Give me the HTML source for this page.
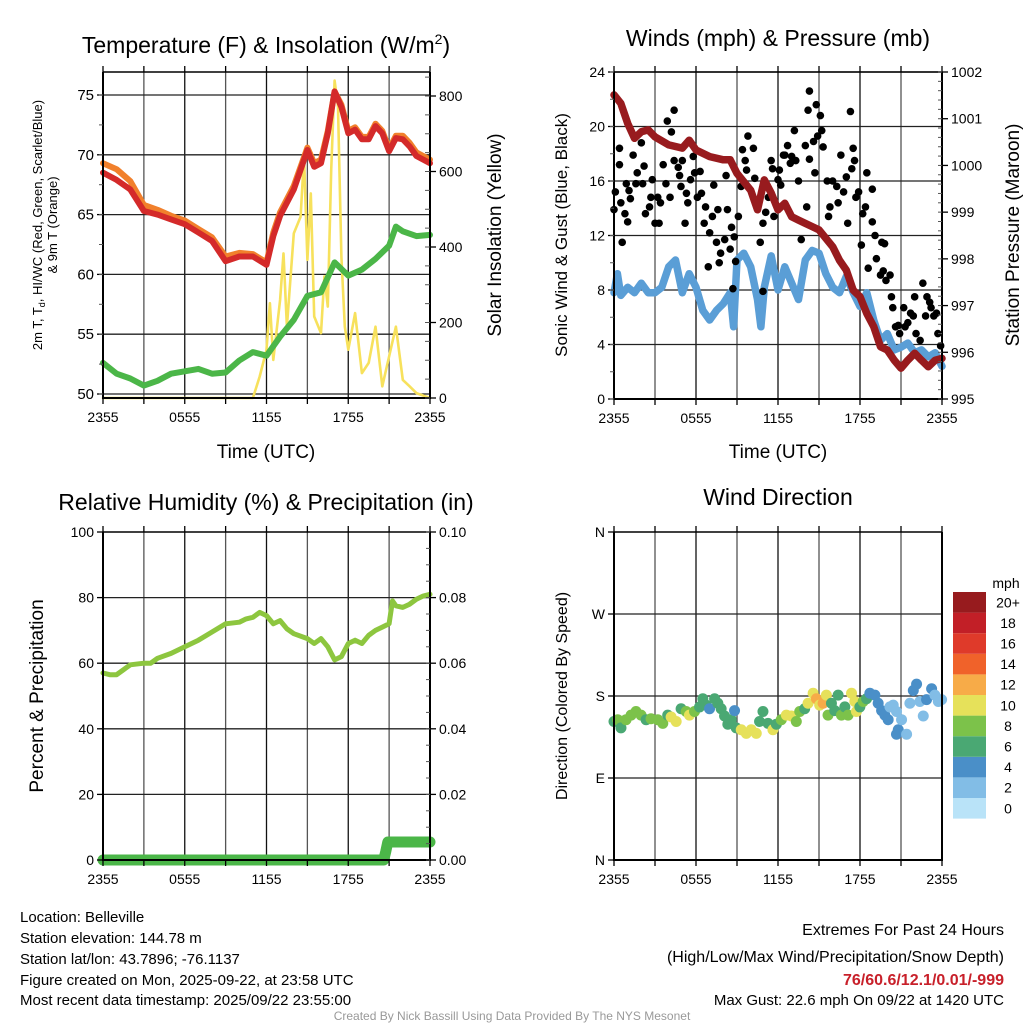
<!DOCTYPE html>
<html><head><meta charset="utf-8"><style>
body{margin:0;background:#fff}
svg{display:block;font-family:"Liberation Sans",sans-serif}
</style></head><body>
<svg id="svg" width="1024" height="1024" viewBox="0 0 1024 1024" xmlns="http://www.w3.org/2000/svg">
<rect width="1024" height="1024" fill="#fff"/>
<g id="grid"></g>
<g id="marks"></g>
<g id="axes"></g>
<g id="texts" fill="#000">
<text x="266" y="53" font-size="23" text-anchor="middle">Temperature (F) &amp; Insolation (W/m<tspan font-size="14" dy="-9">2</tspan><tspan dy="9">)</tspan></text>
<text x="778" y="46" font-size="23" text-anchor="middle">Winds (mph) &amp; Pressure (mb)</text>
<text x="266" y="510" font-size="23" text-anchor="middle">Relative Humidity (%) &amp; Precipitation (in)</text>
<text x="778" y="505" font-size="23" text-anchor="middle">Wind Direction</text>
<text transform="translate(42,225) rotate(-90)" font-size="13" text-anchor="middle">2m T, T<tspan font-size="9" dy="3">d</tspan><tspan dy="-3">, HI/WC (Red, Green, Scarlet/Blue)</tspan></text>
<text transform="translate(57,225) rotate(-90)" font-size="13" text-anchor="middle">&amp; 9m T (Orange)</text>
<text transform="translate(501,235) rotate(-90)" font-size="19" text-anchor="middle">Solar Insolation (Yellow)</text>
<text x="266" y="458" font-size="19" text-anchor="middle">Time (UTC)</text>
<text x="778" y="458" font-size="19" text-anchor="middle">Time (UTC)</text>
<text transform="translate(567,235) rotate(-90)" font-size="17" text-anchor="middle">Sonic Wind &amp; Gust (Blue, Black)</text>
<text transform="translate(1019,235) rotate(-90)" font-size="19" text-anchor="middle">Station Pressure (Maroon)</text>
<text transform="translate(43,696) rotate(-90)" font-size="19" text-anchor="middle">Percent &amp; Precipitation</text>
<text transform="translate(567,696) rotate(-90)" font-size="16" text-anchor="middle">Direction (Colored By Speed)</text>
<text x="1006" y="588" font-size="14" text-anchor="middle">mph</text>
<g font-size="15">
<text x="20" y="922">Location: Belleville</text>
<text x="20" y="943">Station elevation: 144.78 m</text>
<text x="20" y="964">Station lat/lon: 43.7896; -76.1137</text>
<text x="20" y="985">Figure created on Mon, 2025-09-22, at 23:58 UTC</text>
<text x="20" y="1005">Most recent data timestamp: 2025/09/22 23:55:00</text>
</g>
<g text-anchor="end">
<text x="1004" y="935" font-size="16">Extremes For Past 24 Hours</text>
<text x="1004" y="962" font-size="16">(High/Low/Max Wind/Precipitation/Snow Depth)</text>
<text x="1004" y="985" font-size="16" font-weight="bold" fill="#c8202a">76/60.6/12.1/0.01/-999</text>
<text x="1004" y="1005" font-size="15">Max Gust: 22.6 mph On 09/22 at 1420 UTC</text>
</g>
<text x="512" y="1020" font-size="12" fill="#999" text-anchor="middle">Created By Nick Bassill Using Data Provided By The NYS Mesonet</text>
</g>
</svg>
<script>
// ===== data =====
const timeTickLabels = ["2355","0555","1155","1755","2355"];
const tempHours = [0,1,2,3,4,5,6,7,8,9,10,11,12,12.5,13,14,15,15.5,16,16.5,17,17.5,18,18.5,19,19.5,20,20.5,21,21.5,22,22.5,23,24];
const tempRed = [68.5,67.9,67.1,65.3,65,64.6,64.2,63.5,62.8,61.1,61.5,61.5,60.8,63.2,64.9,67.1,70.4,69.0,69.3,71.8,75.3,74.0,71.8,72.1,71.3,71.3,72.4,71.8,70.3,71.4,71.3,70.7,69.9,69.3];
const tempOrange = [69.3,68.8,67.8,65.8,65.4,64.9,64.5,63.8,63.1,61.5,61.8,61.7,61.0,63.5,65.2,67.4,70.6,69.3,69.6,72.0,75.3,74.2,72.0,72.3,71.5,71.5,72.6,72.0,70.5,71.6,71.6,71.0,70.2,69.6];
const dewHours = [0,1,2,3,4,5,6,7,8,9,10,11,12,13,14,15,16,17,18,19,20,21,21.5,22,23,24];
const dewVals = [52.6,51.7,51.3,50.7,51.1,51.7,51.9,52.1,51.7,51.8,52.8,53.5,53.2,54.8,56.2,58.2,58.5,61.0,59.9,60.4,61.3,62.4,64.0,63.6,63.2,63.3];
const solarHours = [0,11,11.5,12,12.25,12.5,13,13.25,13.5,14,14.5,14.75,15,15.25,15.5,16,16.25,16.5,16.75,17,17.25,17.5,17.75,18,18.5,19,19.5,20,20.5,21,21.5,22,22.5,23,24];
const solarVals = [0,0,57,128,251,101,260,383,189,436,480,639,366,542,216,172,322,242,604,841,771,374,189,128,225,66,93,189,31,110,189,48,31,13,0];
const tempTicks = [50,55,60,65,70,75];
const solarTicks = [0,200,400,600,800];

const presHours = [0,0.5,1,1.5,2,2.5,3,4,5,5.5,6,7,8,8.5,9,10,10.5,11,11.5,12,12.5,13,13.5,14,14.5,15,16,16.5,17,17.5,18,18.5,19,19.5,20,20.5,21,21.5,22,22.5,23,23.5,24];
const presVals = [1001.51,1001.33,1000.9,1000.58,1000.72,1000.76,1000.61,1000.44,1000.37,1000.54,1000.33,1000.19,1000.12,1000.12,999.83,999.47,999.05,999.69,999.41,999.05,999.19,998.9,998.83,998.76,998.69,998.62,998.26,997.97,997.76,997.33,997.19,996.83,996.55,996.12,996.05,995.83,995.66,995.83,995.98,995.83,995.69,995.83,995.87];
const windHours = [0,0.25,0.5,1,1.5,2,2.5,3,3.5,4,4.5,5,5.5,6,6.5,7,7.5,8,8.5,8.75,9,9.5,10,10.5,10.75,11,11.5,12,12.5,13,13.5,14,14.5,15,15.5,16,16.5,17,17.5,18,18.5,19,19.5,20,20.5,21,21.5,22,22.5,23,23.5,24];
const windVals = [7.8,9.2,7.6,8.2,7.8,8.5,7.8,7.8,8.2,9.7,10.2,7.8,9.2,8.2,6.5,5.8,6.5,7.0,7.8,5.3,10.2,10.7,9.7,7.3,5.3,8.2,10.5,8.0,9.7,8.5,7.3,10.2,10.9,10.7,9.2,8.2,7.8,9.0,7.8,6.8,7.8,5.8,4.3,4.8,3.6,3.8,4.1,3.4,3.6,3.1,3.4,2.4];
const gustHours = [0.1,0,0.4,0.4,0.5,0.6,0.8,0.9,1.0,1.1,1.2,1.4,1.6,1.7,2.0,2.1,2.2,2.3,2.6,2.7,2.8,3.0,3.2,3.3,3.4,3.6,3.8,3.9,4.1,4.2,4.4,4.4,4.7,4.8,4.9,5.0,5.2,5.3,5.4,5.6,5.8,5.9,6.1,6.3,6.4,6.6,6.7,6.9,7.0,7.2,7.3,7.5,7.6,7.7,7.8,8.1,8.2,8.3,8.5,8.6,8.7,8.8,8.9,9.1,9.3,9.4,9.6,9.7,9.8,10.2,10.3,10.5,10.7,10.9,10.9,11.1,11.3,11.5,11.6,11.7,12.0,12.1,12.2,12.4,12.5,12.7,12.9,13.0,13.2,13.3,13.5,13.7,14.0,14.1,14.2,14.3,14.3,14.6,14.7,14.8,14.9,15.1,15.2,15.3,15.6,15.7,15.8,16.0,16.3,16.4,16.6,16.8,17.0,17.1,17.3,17.4,17.5,17.6,17.7,17.9,18.1,18.2,18.4,18.5,18.6,18.9,18.9,19.1,19.2,19.5,19.6,19.7,19.8,19.9,20.2,20.3,20.4,20.6,20.8,20.9,21.2,21.3,21.5,21.7,21.9,22.0,22.1,22.4,22.6,22.8,22.9,23.1,23.2,23.4,23.6,23.7,23.9];
const gustVals = [15.2,13.9,17.2,18.4,14.4,11.5,13.6,15.8,13.0,15.3,14.7,17.9,15.8,16.6,18.8,15.8,17.1,13.6,14.1,14.8,16.1,12.9,14.8,12.9,14.4,17.2,15.8,20.4,14.8,19.6,21.2,17.5,17.0,16.4,15.6,17.5,12.9,15.1,14.4,16.1,17.8,16.6,14.8,16.7,15.1,12.9,14.1,9.7,12.2,13.4,15.7,11.5,13.9,10.0,10.7,11.7,16.4,13.9,11.0,12.6,8.1,11.9,10.1,13.4,15.6,18.3,17.5,16.8,19.3,18.4,16.2,14.1,11.5,12.9,7.9,13.7,14.8,17.5,16.9,13.4,16.1,16.8,15.7,17.9,17.9,18.6,17.3,17.8,19.7,17.5,16.0,11.7,18.6,14.1,21.2,22.6,17.6,18.9,16.6,21.6,19.3,20.8,19.7,18.5,16.0,13.4,14.1,16.0,15.6,14.4,17.9,15.2,16.3,12.9,21.1,16.9,18.4,17.5,14.8,15.2,11.3,13.6,14.1,16.6,9.6,15.4,13.0,12.0,10.3,9.1,11.5,9.4,11.4,8.7,9.1,7.5,6.7,5.3,5.4,4.8,6.7,5.3,5.6,6.3,6.1,7.5,4.8,4.3,8.5,6.1,7.5,7.1,6.7,6.1,6.3,4.8,3.9];
const windTicks = [0,4,8,12,16,20,24];
const presTicks = [995,996,997,998,999,1000,1001,1002];

const rhHours = [0,0.5,1,1.5,2,3,3.5,4,5,6,7,8,9,10,10.5,11,11.5,12,12.5,13,13.5,14,15,15.5,16,16.5,17,17.5,18,18.5,19,19.5,20,20.5,21,21.25,21.5,22,22.5,23,23.5,24];
const rhVals = [57,56.5,56.5,58,59.5,60,60,61.5,63,65,67,69.5,72,72.5,73.5,74,75.5,74.5,72,73,70.5,69,67.5,66,67.5,65,61,62,66,67,66,68.5,70,71,72,79,77.5,77,78,79.5,80.5,81];
const precipHours = [0,20.6,20.75,20.9,24];
const precipVals = [0,0,0.0025,0.0055,0.0055];
const rhTicks = [0,20,40,60,80,100];
const precipTicks = [0,0.02,0.04,0.06,0.08,0.1];
const precipTickLabels = ["0.00","0.02","0.04","0.06","0.08","0.10"];

const dirHours = [0,0.27,0.51,0.88,1.25,1.61,1.98,2.35,2.71,3.2,3.57,3.93,4.18,4.55,4.91,5.28,5.52,5.89,6.26,6.5,6.74,6.99,7.36,7.6,7.84,8.09,8.33,8.58,8.82,8.94,9.31,9.68,10.04,10.41,10.65,10.9,11.27,11.63,11.88,12.24,12.61,12.98,13.34,13.59,13.95,14.2,14.57,14.81,15.05,15.3,15.54,15.66,15.91,16.15,16.4,16.64,16.89,17.13,17.38,17.62,17.74,17.99,18.23,18.48,18.72,19.09,19.33,19.58,19.82,20.06,20.19,20.43,20.67,20.8,20.67,21.04,21.41,21.65,21.9,22.14,22.38,22.63,22.87,23.24,23.48,23.73,23.97];
const dirVals = [152,154,145,154,159,163,159,154,155,154,150,159,157,152,166,163,159,163,168,177,170,166,177,172,166,158,149,154,164,145,143,139,143,139,152,163,150,143,149,154,159,158,152,163,166,172,183,177,170,172,181,159,172,164,181,159,168,159,183,174,163,168,174,177,183,181,172,164,159,154,168,170,163,143,138,154,138,172,186,193,174,158,176,188,181,174,176];
const dirSpeeds = [7,8,7,8,8,8,8,7,8,8,8,7,10,10,7,8,10,8,7,7,6,4,6,6,6,6,6,7,4,7,10,10,10,10,7,6,7,10,7,8,10,10,8,8,7,10,10,12,10,12,10,8,7,6,7,8,6,8,10,10,10,7,8,7,4,4,4,4,4,4,2,2,2,4,4,2,2,2,4,4,2,2,4,4,2,2,2];
const cbLabels = ["0","2","4","6","8","10","12","14","16","18","20+"];
const cbColors = ["#b9e3f8","#82bde6","#4a8fc8","#4aa873","#7cc24a","#e6e15a","#f7ab48","#f0622a","#df3a2a","#c21f27","#971b1e"];
const dirTickLabels = ["N","E","S","W","N"];
const dirTicks = [0,90,180,270,360];

// ===== helpers =====
const NS="http://www.w3.org/2000/svg";
function lin(d0,d1,r0,r1){return v=>r0+(v-d0)*(r1-r0)/(d1-d0);}
function mk(tag,attrs,parent){const e=document.createElementNS(NS,tag);for(const k in attrs)e.setAttribute(k,attrs[k]);parent.appendChild(e);return e;}
const G=document.getElementById('grid'),M=document.getElementById('marks'),A=document.getElementById('axes');
function poly(xs,ys,fx,fy,color,w,name){
  const pts=xs.map((h,i)=>fx(h).toFixed(1)+","+fy(ys[i]).toFixed(1)).join(" ");
  const p=mk('polyline',{points:pts,fill:'none',stroke:color,'stroke-width':w,'stroke-linejoin':'round','stroke-linecap':'round'},M);
  
  
  return p;
}
function panel(L,R,T,B,hGrid,fy){
  const fx=lin(0,24,L,R);
  for(let h=3;h<24;h+=3){const l=mk('line',{x1:fx(h),x2:fx(h),y1:T,y2:B,stroke:(h%6===0)?'#111':'#555','stroke-width':1.3},G);
    
    }
  hGrid.forEach(v=>{const y=fy(v);const l=mk('line',{x1:L,x2:R,y1:y,y2:y,stroke:'#222','stroke-width':1.3},G);
    
    });
  const f=mk('path',{d:`M${L},${T}V${B}H${R}V${T}`,fill:'none',stroke:'#000','stroke-width':2},A);
  
  
  const tl=mk('line',{x1:L,x2:R,y1:T,y2:T,stroke:'#000','stroke-width':1.5},A);
  
  
  for(let h=0;h<=24;h+=3){mk('line',{x1:fx(h),x2:fx(h),y1:B,y2:B+6,stroke:'#000','stroke-width':1.3},A);
    mk('line',{x1:fx(h),x2:fx(h),y1:T,y2:T-6,stroke:'#000','stroke-width':1.3},A);}
  timeTickLabels.forEach((s,i)=>{const t=mk('text',{x:fx(i*6),y:B+24,'font-size':14,'text-anchor':'middle'},A);t.textContent=s;
    
    });
  return fx;
}
function yTicks(vals,labels,fy,x,side,size){
  vals.forEach((v,i)=>{const y=fy(v);
    mk('line',{x1:x,x2:x+(side<0?-6:6),y1:y,y2:y,stroke:'#000','stroke-width':1.3},A);
    const t=mk('text',{x:x+(side<0?-9:9),y:y+5,'font-size':size||14,'text-anchor':side<0?'end':'start'},A);t.textContent=labels[i];
    
    });
}
function minor(fy,v0,v1,step,x,len){for(let v=v0;v<=v1+1e-9;v+=step){const y=fy(v);mk('line',{x1:x,x2:x+len,y1:y,y2:y,stroke:'#555','stroke-width':1},A);}}

// ===== Panel 1: temperature =====
{const L=103,R=430,T=72,B=398;
 const fyT=lin(50,75,394,95), fyS=lin(0,800,398,96);
 const fx=panel(L,R,T,B,tempTicks,fyT);
 yTicks(tempTicks,tempTicks.map(String),fyT,L,-1,15);
 minor(fyT,50,76,2.5,L,-4);
 yTicks(solarTicks,solarTicks.map(String),fyS,R,1,14);
 minor(fyS,0,850,50,R,-5);
 poly(solarHours,solarVals,fx,fyS,'#f7e15c',2.6,'solar-insolation-line');
 poly(dewHours,dewVals,fx,fyT,'#4bb648',6,'dewpoint-line');
 poly(tempHours,tempOrange,fx,fyT,'#f1802c',6,'temp-9m-line');
 poly(tempHours,tempRed,fx,fyT,'#d42a2a',6,'temp-2m-line');
}
// ===== Panel 2: wind & pressure =====
{const L=614,R=942,T=72,B=399;
 const fyW=lin(0,24,399,72), fyP=lin(995,1002,399,72);
 const fx=panel(L,R,T,B,windTicks,fyW);
 yTicks(windTicks,windTicks.map(String),fyW,L,-1,14);
 minor(fyW,0,24,2,L,-4);
 yTicks(presTicks,presTicks.map(String),fyP,R,1,14);
 minor(fyP,995,1002,0.2,R,-4);
 poly(windHours,windVals,fx,fyW,'#5a9ed6',7.5,'sonic-wind-line');
 gustHours.forEach((h,i)=>{const c=mk('circle',{cx:fx(h),cy:fyW(gustVals[i]),r:3.8,fill:'#000'},M);
   
   });
 poly(presHours,presVals,fx,fyP,'#981b1e',7.5,'pressure-line');
}
// ===== Panel 3: RH & precip =====
{const L=103,R=430,T=532,B=860;
 const fyR=lin(0,100,860,532), fyPr=lin(0,0.1,860,532);
 const fx=panel(L,R,T,B,[20,40,60,80],fyR);
 yTicks(rhTicks,rhTicks.map(String),fyR,L,-1,14);
 yTicks(precipTicks,precipTickLabels,fyPr,R,1,14);
 minor(fyPr,0,0.1,0.005,R,-4);
 poly(rhHours,rhVals,fx,fyR,'#8dc63f',5,'relative-humidity-line');
 poly(precipHours,precipVals,fx,fyPr,'#4bb648',11,'precipitation-line');
}
// ===== Panel 4: wind direction =====
{const L=614,R=942,T=532,B=860;
 const fyD=lin(0,360,860,532);
 const fx=panel(L,R,T,B,[90,180,270],fyD);
 yTicks(dirTicks,dirTickLabels,fyD,L,-1,14);
 dirHours.forEach((h,i)=>{const c=mk('circle',{cx:fx(h),cy:fyD(dirVals[i]),r:5.5,fill:cbColors[Math.min(10,Math.floor(dirSpeeds[i]/2))]},M);
   
   });
 const cbTop=592,cbH=20.6;
 cbColors.forEach((col,i)=>{const y=cbTop+(10-i)*cbH;
   const r=mk('rect',{x:953,y:y,width:33,height:cbH,fill:col},A);
   
   
   const t=mk('text',{x:1008,y:y+cbH/2+5,'font-size':14,'text-anchor':'middle'},A);t.textContent=cbLabels[i];
   
   });
}
</script>
</body></html>
